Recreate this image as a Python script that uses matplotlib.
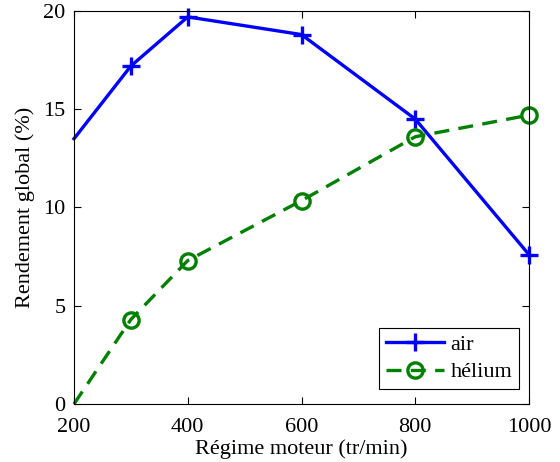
import matplotlib
matplotlib.use("Agg")
import matplotlib.pyplot as plt

# Data
regime = [200, 300, 400, 600, 800, 1000]
rend_air = [13.5, 17.2, 19.7, 18.8, 14.5, 7.6]
rend_helium = [0.0, 4.3, 7.3, 10.35, 13.6, 14.7]
xticks = [200, 400, 600, 800, 1000]
yticks = [0, 5, 10, 15, 20]

plt.rcParams['font.family'] = ['Liberation Serif', 'DejaVu Serif']

fig = plt.figure(figsize=(5.6, 4.62), dpi=100)
ax = fig.add_axes([74 / 560, 1 - 404 / 462, (529 - 74) / 560, (404 - 11) / 462])

# no marker on the first point, as in the reference
ax.plot(regime, rend_air, color='blue', linestyle='-', linewidth=2.4,
        marker='+', markersize=13, markeredgewidth=2.4, markevery=range(1, 6),
        label='air', clip_on=False)
ax.plot(regime, rend_helium, color='green', linestyle='--', linewidth=2.4,
        dashes=(4.5, 2.8), marker='o', markersize=11, markerfacecolor='none',
        markeredgewidth=2.4, markevery=range(1, 6), label='hélium', clip_on=False)

ax.set_xlim(200, 1000)
ax.set_ylim(0, 20)
ax.set_xticks(xticks)
ax.set_yticks(yticks)
ax.tick_params(direction='in', top=True, right=True, length=5, width=0.8,
               labelsize=16)
ax.tick_params(axis='x', pad=10)
ax.tick_params(axis='y', pad=6)
for s in ax.spines.values():
    s.set_linewidth(0.8)

ax.set_xlabel("Régime moteur (tr/min)", fontsize=16, labelpad=2)
ax.set_ylabel("Rendement global (%)", fontsize=16, labelpad=6)

leg = ax.legend(loc='lower right', bbox_to_anchor=(519 / 560, 1 - 389 / 462),
                bbox_transform=fig.transFigure, fontsize=16, fancybox=False,
                framealpha=1, edgecolor='black', handlelength=2.6, borderpad=0.3,
                labelspacing=0.3, handletextpad=0.3, borderaxespad=0)
leg.get_frame().set_linewidth(0.8)

fig.savefig("out.png", dpi=100)
